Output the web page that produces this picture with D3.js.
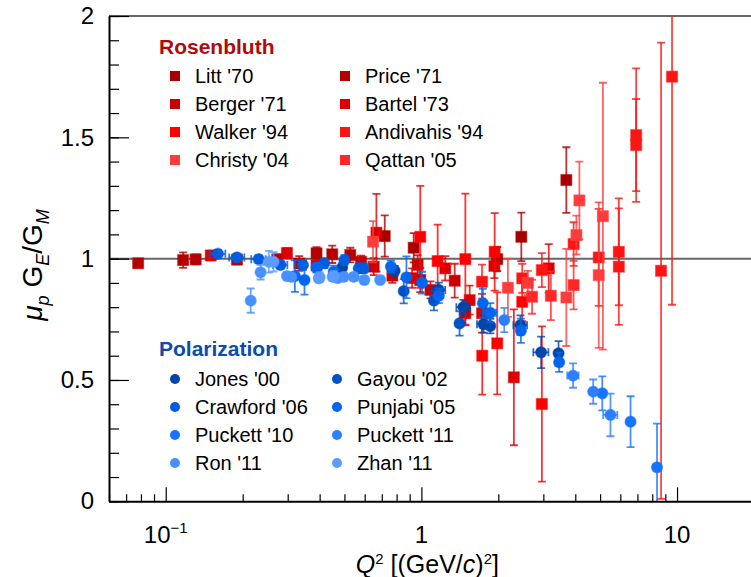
<!DOCTYPE html>
<html><head><meta charset="utf-8">
<script src="https://cdn.jsdelivr.net/npm/d3@7"></script>
<style>
html,body{margin:0;padding:0;background:#fff;}
svg{display:block;font-family:"Liberation Sans",Arial,Helvetica,sans-serif;}
</style></head>
<body><svg id="c" width="751" height="577"></svg>
<script>
// ---------- data: [Q2, ratio, error, (Q2 error)] ----------
const litt70     = [[0.719,1.093,0.085],[0.933,1.045,0.06],[0.99,0.912,0.05],[1.98,0.998,0.05],[2.46,1.09,0.1],[3.69,1.324,0.135]];
const price71    = [[0.078,0.981,0.015],[0.117,0.994,0.032],[0.131,0.997,0.02],[0.190,0.996,0.02],[0.273,0.997,0.02],[0.333,0.98,0.03],[0.389,1.022,0.025],[0.448,1.018,0.036],[0.527,1.015,0.03]];
const berger71   = [[0.581,0.987,0.025],[0.651,0.967,0.035],[0.77,0.93,0.03],[0.967,0.974,0.04],[1.085,0.871,0.035],[1.35,0.909,0.07],[1.486,0.775,0.05]];
const bartel73   = [[0.150,1.013,0.02],[0.298,1.023,0.02],[0.389,0.972,0.02],[0.667,1.107,0.16],[0.92,0.92,0.04],[1.24,0.96,0.05],[1.545,0.829,0.06],[1.727,0.775,0.08],[1.93,0.97,0.05],[2.3,0.511,0.28],[3.15,0.96,0.1]];
const walker94   = [[0.99,1.09,0.21],[1.158,0.99,0.15],[1.486,0.998,0.27],[1.73,0.6,0.16],[1.935,1.028,0.16],[1.98,0.651,0.21],[2.48,0.822,0.08],[2.96,0.401,0.32]];
const andivahis94= [[1.727,0.905,0.07],[2.48,0.919,0.06],[2.96,0.953,0.07],[3.94,1.06,0.09],[4.94,1.005,0.2],[5.92,1.028,0.22],[5.92,0.967,0.24],[6.92,1.509,0.275],[6.92,1.468,0.19],[8.66,0.95,0.94],[9.56,1.75,0.94]];
const christy04  = [[0.647,1.07,0.085],[2.18,0.88,0.12],[2.61,0.9,0.05],[3.69,0.84,0.2],[4.04,1.097,0.08],[4.15,1.24,0.16],[4.94,0.932,0.3],[5.13,1.175,0.55]];
const qattan05   = [[2.71,0.843,0.07],[3.21,0.847,0.1],[3.94,0.891,0.1]];

const jones00    = [[0.49,0.963,0.02],[0.786,0.95,0.02],[1.17,0.871,0.03,0.07],[1.46,0.8,0.03,0.09],[1.75,0.73,0.035,0.1],[1.86,0.722,0.03],[2.44,0.726,0.04,0.15],[2.94,0.614,0.065,0.2],[3.44,0.61,0.05]];
const gayou02    = [[0.853,0.866,0.05],[1.12,0.827,0.04],[1.41,0.733,0.05]];
const crawford06 = [[0.160,1.02,0.015,0.011],[0.190,1.005,0.015,0.013],[0.231,0.998,0.015,0.015],[0.281,0.974,0.015,0.018],[0.344,0.974,0.02],[0.417,0.981,0.02],[0.50,0.994,0.02],[0.569,0.96,0.02],[0.595,0.96,0.02]];
const punjabi05  = [[0.32,0.928,0.065],[0.349,0.912,0.06],[0.389,0.963,0.02],[0.454,0.946,0.025],[0.76,0.967,0.025],[0.874,0.923,0.086],[1.006,0.901,0.045],[1.17,0.847,0.03],[1.74,0.816,0.06],[1.86,0.777,0.04,0.1],[2.45,0.703,0.05],[3.46,0.573,0.04]];
const puckett10  = [[5.1,0.445,0.07],[6.58,0.328,0.105],[8.35,0.14,0.18]];
const puckett11  = [[2.11,0.747,0.05],[3.92,0.518,0.05,0.2],[4.7,0.452,0.05],[5.49,0.356,0.088,0.35]];
const ron11      = [[0.215,0.827,0.05],[0.235,0.944,0.03],[0.298,0.928,0.015],[0.31,0.925,0.015],[0.397,0.919,0.015],[0.45,0.925,0.015],[0.47,0.92,0.015],[0.497,0.925,0.015],[0.544,0.925,0.015],[0.598,0.912,0.015],[0.69,0.912,0.015]];
const zhan11     = [[0.253,0.987,0.045],[0.264,0.987,0.04],[0.40,0.923,0.02],[0.454,0.928,0.02]];

const rosenNames = ["Litt '70","Price '71","Berger '71","Bartel '73","Walker '94","Andivahis '94","Christy '04","Qattan '05"];
const rosenColors= ["#a80000","#b40000","#c80000","#dc0000","#ff0000","#ff1414","#ff3c3c","#ff2828"];
const rosenData  = [litt70,price71,berger71,bartel73,walker94,andivahis94,christy04,qattan05];
const polNames   = ["Jones '00","Gayou '02","Crawford '06","Punjabi '05","Puckett '10","Puckett '11","Ron '11","Zhan '11"];
const polColors  = ["#0046a8","#0052c4","#005ce0","#0066f0","#1474ff","#2a80ff","#4890ff","#5c9cff"];
const polData    = [jones00,gayou02,crawford06,punjabi05,puckett10,puckett11,ron11,zhan11];

const xMajor = [0.1,1,10];
const xMinor = [0.06,0.07,0.08,0.09,0.2,0.3,0.4,0.5,0.6,0.7,0.8,0.9,2,3,4,5,6,7,8,9,20];
const yMajor = [0,0.5,1,1.5,2];
const yLabels = ["0","0.5","1","1.5","2"];

// ---------- layout ----------
const L=109, R=754, T=16, B=501.3;
const svg = d3.select("#c");
const x = d3.scaleLog().domain([0.06,20]).range([L,R]);
const y = d3.scaleLinear().domain([0,2]).range([B,T]);

svg.append("defs").append("clipPath").attr("id","clip")
  .append("rect").attr("x",L).attr("y",T).attr("width",R-L).attr("height",B-T);

// top frame line
svg.append("line").attr("x1",L).attr("x2",R).attr("y1",y(2)).attr("y2",y(2))
  .attr("stroke","#333").attr("stroke-width",1.5);
// unity line
svg.append("line").attr("x1",L).attr("x2",R).attr("y1",y(1)).attr("y2",y(1))
  .attr("stroke","#666").attr("stroke-width",2);

// ---------- data ----------
const plot = svg.append("g").attr("clip-path","url(#clip)");
function drawSeries(data,color,shape){
  const g = plot.append("g");
  const cap=4;
  data.forEach(d=>{
    const cx=x(d[0]), cy=y(d[1]);
    const y1=y(d[1]-d[2]), y2=y(d[1]+d[2]);
    const eg=g.append("g").attr("stroke",color).attr("stroke-width",1.8).attr("stroke-opacity",0.8);
    eg.append("line").attr("x1",cx).attr("x2",cx).attr("y1",y1).attr("y2",y2);
    eg.append("line").attr("x1",cx-cap).attr("x2",cx+cap).attr("y1",y1).attr("y2",y1);
    eg.append("line").attr("x1",cx-cap).attr("x2",cx+cap).attr("y1",y2).attr("y2",y2);
    if(d[3]){
      const xa=x(d[0]-d[3]), xb=x(d[0]+d[3]);
      eg.append("line").attr("x1",xa).attr("x2",xb).attr("y1",cy).attr("y2",cy);
      eg.append("line").attr("x1",xa).attr("x2",xa).attr("y1",cy-cap).attr("y2",cy+cap);
      eg.append("line").attr("x1",xb).attr("x2",xb).attr("y1",cy-cap).attr("y2",cy+cap);
    }
  });
  data.forEach(d=>{
    const cx=x(d[0]), cy=y(d[1]);
    if(shape==="sq"){
      g.append("rect").attr("x",cx-5.5).attr("y",cy-5.5).attr("width",11).attr("height",11)
        .attr("fill",color).attr("stroke",color).attr("stroke-opacity",0.45).attr("stroke-width",1.2);
    } else {
      g.append("circle").attr("cx",cx).attr("cy",cy).attr("r",5.6)
        .attr("fill",color).attr("stroke",color).attr("stroke-opacity",0.45).attr("stroke-width",1.2);
    }
  });
}
rosenData.forEach((d,i)=>drawSeries(d,rosenColors[i],"sq"));
polData.forEach((d,i)=>drawSeries(d,polColors[i],"ci"));

// ---------- axes ----------
const fs = 24;
const yMin = d3.axisLeft(y).tickValues(d3.range(0,21).map(i=>i/10)).tickSizeInner(-10).tickSizeOuter(0).tickFormat("");
svg.append("g").attr("transform",`translate(${L},0)`).call(yMin)
  .call(g=>g.select(".domain").attr("stroke","#000").attr("stroke-width",2))
  .call(g=>g.selectAll(".tick line").attr("stroke","#000").attr("stroke-width",1.2));
const yMaj = d3.axisLeft(y).tickValues(yMajor).tickSizeInner(-20).tickSizeOuter(0).tickPadding(36)
  .tickFormat((d,i)=>yLabels[i]);
svg.append("g").attr("transform",`translate(${L},0)`).call(yMaj)
  .call(g=>g.select(".domain").remove())
  .call(g=>g.selectAll(".tick line").attr("stroke","#000").attr("stroke-width",1.2))
  .call(g=>g.selectAll(".tick text").attr("font-size",fs).attr("fill","#000")
     .attr("font-family","'Liberation Sans',Arial,sans-serif").attr("x",-15));

const xMinAx = d3.axisBottom(x).tickValues(xMinor).tickSizeInner(-7).tickSizeOuter(0).tickFormat("");
svg.append("g").attr("transform",`translate(0,${B})`).call(xMinAx)
  .call(g=>g.select(".domain").attr("stroke","#000").attr("stroke-width",2))
  .call(g=>g.selectAll(".tick line").attr("stroke","#000").attr("stroke-width",1.2));
const xMajAx = d3.axisBottom(x).tickValues(xMajor).tickSizeInner(-14).tickSizeOuter(0).tickFormat("");
svg.append("g").attr("transform",`translate(0,${B})`).call(xMajAx)
  .call(g=>g.select(".domain").remove())
  .call(g=>g.selectAll(".tick line").attr("stroke","#000").attr("stroke-width",1.2));

// x tick labels
const xl = svg.append("g").attr("font-size",fs).attr("fill","#000");
const t01 = xl.append("text").attr("x",x(0.1)).attr("y",543).attr("text-anchor","middle");
t01.append("tspan").text("10");
t01.append("tspan").attr("dy",-10).attr("font-size",15).text("\u22121");
xl.append("text").attr("x",x(1)).attr("y",543).attr("text-anchor","middle").text("1");
xl.append("text").attr("x",x(10)).attr("y",543).attr("text-anchor","middle").text("10");

// x title
const xt = svg.append("text").attr("x",x(1)+6).attr("y",573).attr("text-anchor","middle").attr("font-size",25);
xt.append("tspan").attr("font-style","italic").text("Q");
xt.append("tspan").attr("dy",-9).attr("font-size",15).text("2");
xt.append("tspan").attr("dy",9).text(" [(GeV/");
xt.append("tspan").attr("font-style","italic").text("c");
xt.append("tspan").text(")");
xt.append("tspan").attr("dy",-9).attr("font-size",15).text("2");
xt.append("tspan").attr("dy",9).text("]");

// y title
const yt = svg.append("text").attr("transform","translate(42,265) rotate(-90)").attr("text-anchor","middle").attr("font-size",28);
yt.append("tspan").attr("font-style","italic").text("\u03BC");
yt.append("tspan").attr("dy",7).attr("font-size",18).attr("font-style","italic").text("p");
yt.append("tspan").attr("dy",-7).text(" G");
yt.append("tspan").attr("dy",7).attr("font-size",18).attr("font-style","italic").text("E");
yt.append("tspan").attr("dy",-7).text("/G");
yt.append("tspan").attr("dy",7).attr("font-size",18).attr("font-style","italic").text("M");

// ---------- legends ----------
const lg = svg.append("g");
lg.append("text").attr("x",159).attr("y",54).attr("font-size",21).attr("font-weight","bold").attr("fill","#b00a0a").text("Rosenbluth");
rosenNames.forEach((n,i)=>{
  const col=i%2, row=Math.floor(i/2);
  const cy=76+row*28, mx=col?345:175, tx=col?365:195;
  lg.append("rect").attr("x",mx-5).attr("y",cy-5).attr("width",10).attr("height",10).attr("fill",rosenColors[i]);
  lg.append("text").attr("x",tx).attr("y",cy+7).attr("font-size",20).attr("fill","#000").text(n);
});
lg.append("text").attr("x",159).attr("y",356).attr("font-size",21).attr("font-weight","bold").attr("fill","#0a4cb0").text("Polarization");
polNames.forEach((n,i)=>{
  const col=i%2, row=Math.floor(i/2);
  const cy=379+row*28, mx=col?337:175, tx=col?357:195;
  lg.append("circle").attr("cx",mx).attr("cy",cy).attr("r",5).attr("fill",polColors[i]);
  lg.append("text").attr("x",tx).attr("y",cy+7).attr("font-size",20).attr("fill","#000").text(n);
});
</script></body></html>
